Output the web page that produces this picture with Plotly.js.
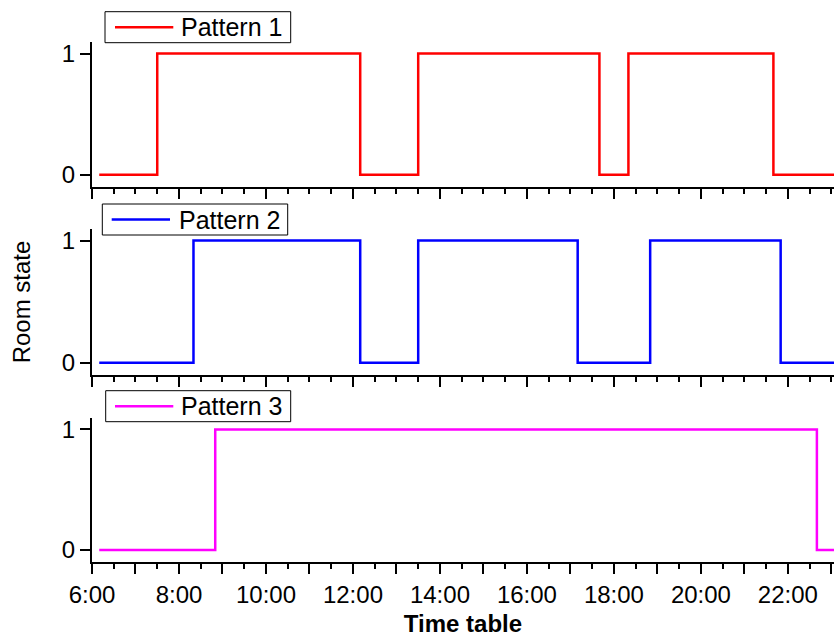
<!DOCTYPE html>
<html>
<head>
<meta charset="utf-8">
<script src="https://cdn.plot.ly/plotly-3.0.1.min.js"></script>
<style>html,body{margin:0;padding:0;background:#fff;}#chart{width:834px;height:642px;}</style>
</head>
<body>
<div id="chart"></div>
<script>
// Data (times as H:MM, states 0/1, step-wise)
var pattern1Times  = ["6:10","7:30","12:10","13:30","17:40","18:20","21:40","23:10"];
var pattern1States = [0,1,0,1,0,1,0,0];
var pattern2Times  = ["6:10","8:20","12:10","13:30","17:10","18:50","21:50","23:10"];
var pattern2States = [0,1,0,1,0,1,0,0];
var pattern3Times  = ["6:10","8:50","22:40","23:10"];
var pattern3States = [0,1,0,0];
var seriesNames = ["Pattern 1","Pattern 2","Pattern 3"];
var hourTicks = [6,7,8,9,10,11,12,13,14,15,16,17,18,19,20,21,22,23];
var hourTickText = ["6:00","","8:00","","10:00","","12:00","","14:00","","16:00","","18:00","","20:00","","22:00",""];

function toHours(s){var p=s.split(":");return Number(p[0])+Number(p[1])/60;}

var FONT = "'Liberation Sans', Arial, sans-serif";
var colors = ["#FF0000","#0000FF","#FF00FF"];
var allTimes = [pattern1Times,pattern2Times,pattern3Times];
var allStates = [pattern1States,pattern2States,pattern3States];
var axSuffix = ["","2","3"];
var traces = [];
for (var i=0;i<3;i++){
  traces.push({
    x: allTimes[i].map(toHours), y: allStates[i],
    type:"scatter", mode:"lines", line:{shape:"hv", color:colors[i], width:2.5},
    name: seriesNames[i], xaxis:"x"+axSuffix[i], yaxis:"y"+axSuffix[i],
    showlegend:false, cliponaxis:true
  });
}

// plot-area geometry helpers (pixels -> paper fractions)
var L=92, T=42, W=742, H=520;
function px(x){return (x-L)/W;}
function py(y){return (T+H-y)/H;}

var xRange=[6,23.06];
function xax(showLabels, anchor){
  return {
    range:xRange, anchor:anchor, showgrid:false, zeroline:false,
    showline:true, linecolor:"#000", linewidth:2,
    tickmode:"array", tickvals:hourTicks, ticktext:hourTickText,
    ticks:"outside", ticklen:10, tickwidth:2, tickcolor:"#000",
    showticklabels:showLabels, tickfont:{family:FONT,size:24,color:"#000"},
    minor:{dtick:0.5, tick0:6, ticks:"outside", ticklen:5, tickwidth:2, tickcolor:"#000", showgrid:false},
    fixedrange:true
  };
}
function yax(domain, anchor){
  return {
    domain:domain, anchor:anchor, range:[-0.1,1.095], showgrid:false, zeroline:false,
    showline:true, linecolor:"#000", linewidth:2,
    tickmode:"array", tickvals:[0,1], ticktext:["0","1"],
    ticks:"outside", ticklen:10, tickwidth:2, tickcolor:"#000",
    tickfont:{family:FONT,size:24,color:"#000"}, fixedrange:true
  };
}

// legend boxes (pixel boxes: [left, top, right, bottom], line [x0,x1,y], text x)
var legendBoxes = [
  {box:[105,11.7,290.7,42.7], line:[115,173.3,27.2], tx:179},
  {box:[102.3,204,287.7,235], line:[111.7,170,219.5], tx:176.5},
  {box:[105.7,390.7,290.7,421.7], line:[115,173.3,406.2], tx:179}
];
var shapes=[], annotations=[];
legendBoxes.forEach(function(lb,i){
  shapes.push({type:"rect", xref:"paper", yref:"paper", x0:px(lb.box[0]), x1:px(lb.box[2]), y0:py(lb.box[3]), y1:py(lb.box[1]),
    line:{color:"#000", width:1}, fillcolor:"#fff", layer:"above"});
  shapes.push({type:"line", xref:"paper", yref:"paper", x0:px(lb.line[0]), x1:px(lb.line[1]), y0:py(lb.line[2]), y1:py(lb.line[2]),
    line:{color:colors[i], width:2.5}, layer:"above"});
  annotations.push({xref:"paper", yref:"paper", x:px(lb.tx), y:py((lb.box[1]+lb.box[3])/2), xanchor:"left", yanchor:"middle",
    text:seriesNames[i], showarrow:false, font:{family:FONT,size:25,color:"#000"}});
});

var layout = {
  width:834, height:642,
  margin:{l:L, r:0, t:T, b:80},
  paper_bgcolor:"#fff", plot_bgcolor:"#fff",
  font:{family:FONT, color:"#000"},
  xaxis: xax(false,"y"),
  xaxis2: xax(false,"y2"),
  xaxis3: Object.assign(xax(true,"y3"), {title:{text:"<b>Time table</b>", font:{family:FONT,size:24,color:"#000"}, standoff:8}}),
  yaxis: yax([0.7212,1],"x"),
  yaxis2: Object.assign(yax([0.3596,0.6404],"x2"), {title:{text:"Room state", font:{family:FONT,size:24,color:"#000"}, standoff:24}}),
  yaxis3: yax([0,0.2769],"x3"),
  shapes:shapes, annotations:annotations,
  showlegend:false
};

Plotly.newPlot("chart", traces, layout, {displayModeBar:false, staticPlot:true});
</script>
</body>
</html>
